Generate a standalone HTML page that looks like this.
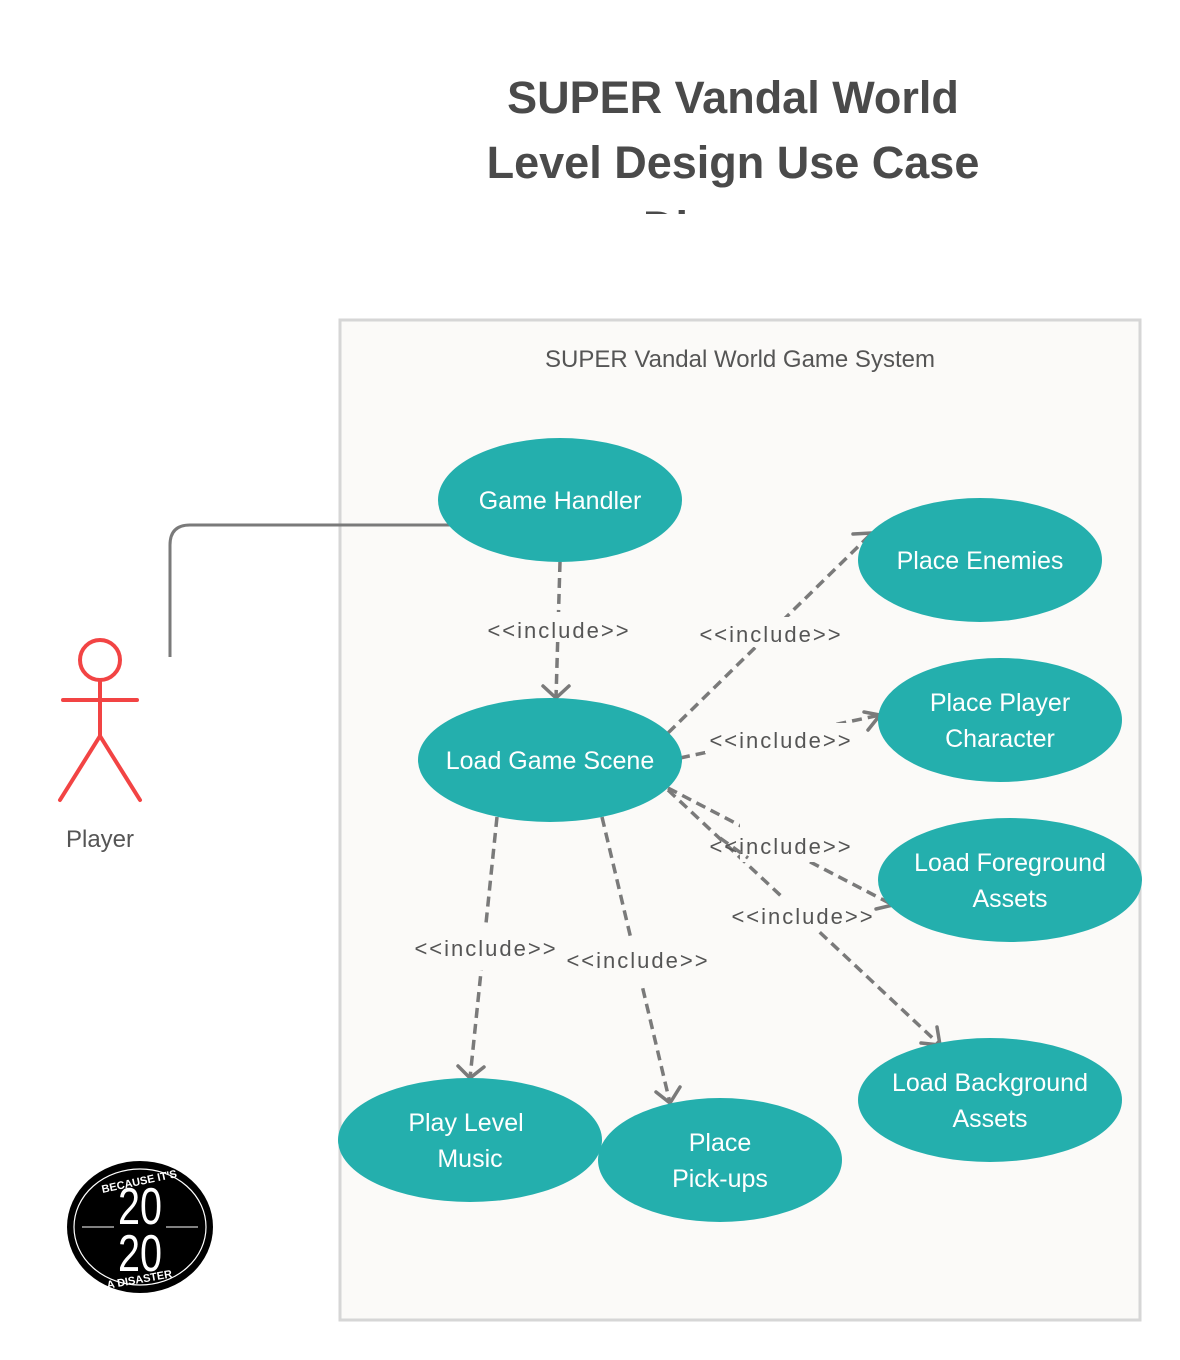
<!DOCTYPE html>
<html><head><meta charset="utf-8"><style>
html,body{margin:0;padding:0;background:#fff;}
svg{display:block;}
text{font-family:"Liberation Sans",sans-serif;}
</style></head><body>
<svg width="1180" height="1360" viewBox="0 0 1180 1360" xmlns="http://www.w3.org/2000/svg">
<defs><clipPath id="tc"><rect x="0" y="0" width="1180" height="214"/></clipPath></defs>
<g clip-path="url(#tc)" fill="#4a4a4a" font-weight="bold" font-size="45" text-anchor="middle">
<text x="733" y="113">SUPER Vandal World</text>
<text x="733" y="178">Level Design Use Case</text>
<text x="733" y="243">Diagram</text>
</g>
<rect x="340" y="320" width="800" height="1000" fill="#fbfaf8" stroke="#d6d6d6" stroke-width="3"/>
<path d="M170 657 V545 Q170 525 190 525 H452" fill="none" stroke="#7a7a7a" stroke-width="3"/>
<text x="740" y="367" font-size="24" fill="#555" text-anchor="middle">SUPER Vandal World Game System</text>
<!-- actor -->
<g stroke="#f24444" stroke-width="4" fill="none" stroke-linecap="round">
<circle cx="100" cy="660" r="20"/>
<line x1="100" y1="680" x2="100" y2="736"/>
<line x1="63" y1="700" x2="137" y2="700"/>
<line x1="100" y1="736" x2="60" y2="800"/>
<line x1="100" y1="736" x2="140" y2="800"/>
</g>
<text x="100" y="847" font-size="24" fill="#555" text-anchor="middle">Player</text>
<!-- connectors -->
<g stroke="#7a7a7a" stroke-width="3.5" fill="none" stroke-dasharray="10 6">
<line x1="560" y1="562" x2="556" y2="698"/>
<line x1="668" y1="733" x2="872" y2="533"/>
<line x1="680" y1="758" x2="880" y2="715"/>
<line x1="668" y1="788" x2="893" y2="905"/>
<line x1="668" y1="790" x2="940" y2="1045"/>
<line x1="497" y1="817" x2="470" y2="1078"/>
<line x1="602" y1="817" x2="670" y2="1103"/>
</g>
<g stroke="#7a7a7a" stroke-width="3.5" fill="none" stroke-linecap="round">
<polyline points="543,686 556,698 569,686"/>
<polyline points="853,534 872,533 870,552"/>
<polyline points="864,712 880,715 868,730"/>
<polyline points="886,889 893,905 876,909"/>
<polyline points="937,1027 940,1045 921,1043"/>
<polyline points="458,1066 470,1078 484,1067"/>
<polyline points="656,1092 670,1103 680,1087"/>
</g>
<!-- labels -->
<g font-size="22" fill="#555" text-anchor="middle" letter-spacing="2">
<rect x="483" y="612" width="150" height="30" fill="#fbfaf8"/>
<text x="559" y="638">&lt;&lt;include&gt;&gt;</text>
<rect x="695" y="617" width="150" height="30" fill="#fbfaf8"/>
<text x="771" y="642">&lt;&lt;include&gt;&gt;</text>
<rect x="705" y="723" width="150" height="30" fill="#fbfaf8"/>
<text x="781" y="748">&lt;&lt;include&gt;&gt;</text>
<rect x="740" y="822" width="80" height="40" fill="#fbfaf8"/>
<text x="781" y="854">&lt;&lt;include&gt;&gt;</text>
<line x1="720" y1="838" x2="748" y2="858" stroke="#7a7a7a" stroke-width="3.5" stroke-dasharray="10 6"/>
<rect x="740" y="898" width="125" height="32" fill="#fbfaf8"/>
<text x="803" y="924">&lt;&lt;include&gt;&gt;</text>
<rect x="410" y="925" width="150" height="45" fill="#fbfaf8"/>
<text x="486" y="956">&lt;&lt;include&gt;&gt;</text>
<rect x="562" y="938" width="150" height="45" fill="#fbfaf8"/>
<text x="638" y="968">&lt;&lt;include&gt;&gt;</text>
</g>
<!-- ellipses -->
<g fill="#24afad">
<ellipse cx="560" cy="500" rx="122" ry="62"/>
<ellipse cx="980" cy="560" rx="122" ry="62"/>
<ellipse cx="1000" cy="720" rx="122" ry="62"/>
<ellipse cx="1010" cy="880" rx="132" ry="62"/>
<ellipse cx="550" cy="760" rx="132" ry="62"/>
<ellipse cx="990" cy="1100" rx="132" ry="62"/>
<ellipse cx="470" cy="1140" rx="132" ry="62"/>
<ellipse cx="720" cy="1160" rx="122" ry="62"/>
</g>
<g fill="#fff" font-size="25" text-anchor="middle">
<text x="560" y="509">Game Handler</text>
<text x="980" y="569">Place Enemies</text>
<text x="1000" y="711">Place Player</text>
<text x="1000" y="747">Character</text>
<text x="1010" y="871">Load Foreground</text>
<text x="1010" y="907">Assets</text>
<text x="550" y="769">Load Game Scene</text>
<text x="990" y="1091">Load Background</text>
<text x="990" y="1127">Assets</text>
<text x="466" y="1131">Play Level</text>
<text x="470" y="1167">Music</text>
<text x="720" y="1151">Place</text>
<text x="720" y="1187">Pick-ups</text>
</g>
<!-- logo -->
<ellipse cx="140" cy="1227" rx="73" ry="66" fill="#000"/>
<ellipse cx="140" cy="1227" rx="66" ry="58" fill="none" stroke="#fff" stroke-width="1.2"/>
<line x1="82" y1="1227" x2="198" y2="1227" stroke="#fff" stroke-width="1"/>
<rect x="114" y="1180" width="52" height="92" fill="#000"/>
<g fill="#fff" text-anchor="middle">
<text x="140" y="1224" font-size="52" textLength="44" lengthAdjust="spacingAndGlyphs">20</text>
<text x="140" y="1271" font-size="52" textLength="44" lengthAdjust="spacingAndGlyphs">20</text>
<text x="140" y="1185" font-size="11" font-weight="bold" transform="rotate(-12 140 1185)">BECAUSE IT'S</text>
<text x="140" y="1283" font-size="11" font-weight="bold" transform="rotate(-10 140 1283)">A DISASTER</text>
</g>
</svg>
</body></html>
